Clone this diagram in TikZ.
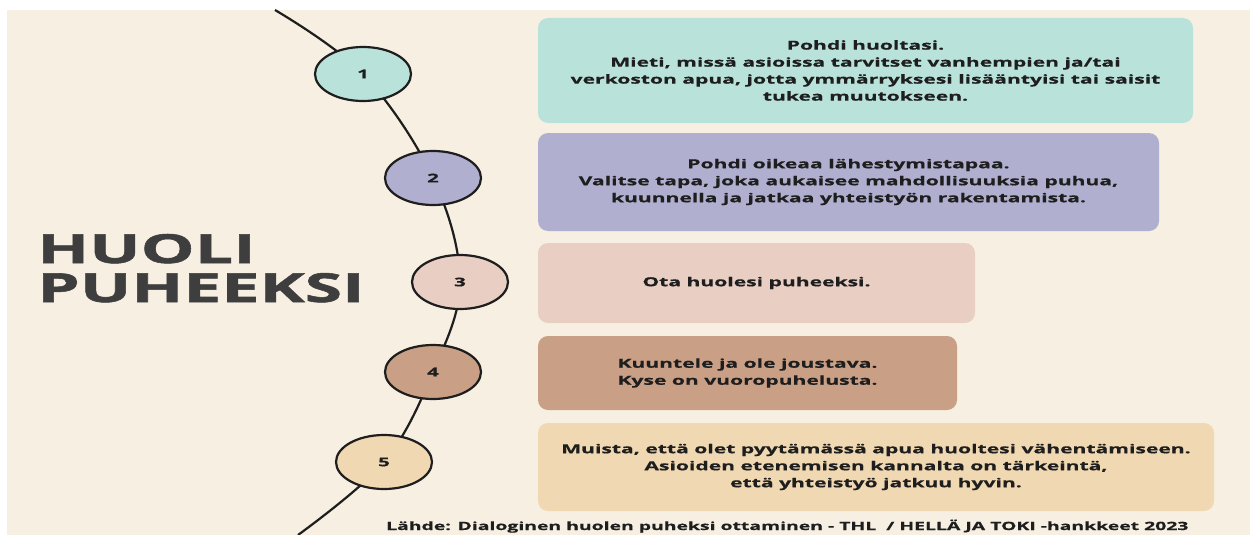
\documentclass[tikz,border=0pt]{standalone}
\usepackage{fontspec}
\setmainfont{Open Sans}[FakeStretch=1.7, FakeBold=0.5]
\newfontfamily\headfont{Open Sans}[FakeStretch=1.7, FakeBold=1.4]
\usetikzlibrary{shapes.geometric,backgrounds}
\definecolor{cream}{HTML}{F6EFE2}
\definecolor{teal1}{HTML}{B9E3DA}
\definecolor{lav}{HTML}{B0AFD0}
\definecolor{rose}{HTML}{E8CEC3}
\definecolor{clay}{HTML}{C99F86}
\definecolor{sand}{HTML}{F0D8B2}
\definecolor{ink}{HTML}{1E1E1E}
\definecolor{slate}{HTML}{3E3E3E}
\begin{document}
\begin{tikzpicture}[x=1pt, y=-1pt,
    box/.style={rounded corners=10pt, inner sep=0pt, align=center, text=ink,
        font=\bfseries\fontsize{12.4}{17}\selectfont},
    num/.style={ellipse, draw=ink, line width=2.2pt, minimum width=96pt, minimum height=54pt,
        inner sep=0pt, text=ink, font=\bfseries\fontsize{12}{14}\selectfont},
    title/.style={anchor=base west, inner sep=0pt, text=slate, font=\headfont\bfseries\fontsize{40}{42}\selectfont}]
    \useasboundingbox (0,0) rectangle (1250,535);

    % steps
    \node[num, fill=teal1] (c1) at (363,74) {1};
    \node[num, fill=lav] (c2) at (433,178) {2};
    \node[num, fill=rose] (c3) at (460,282) {3};
    \node[num, fill=clay] (c4) at (433,372) {4};
    \node[num, fill=sand] (c5) at (384,462) {5};
    \coordinate (top) at (275,10);
    \coordinate (bot) at (298,535);

    % text boxes
    \node[box, fill=teal1, minimum width=655pt, minimum height=105pt] (b1) at (865.5,70.5)
        {Pohdi huoltasi.\\Mieti, missä asioissa tarvitset vanhempien ja/tai\\verkoston apua, jotta ymmärryksesi lisääntyisi tai saisit\\tukea muutokseen.};
    \node[box, fill=lav, minimum width=621pt, minimum height=98pt] (b2) at (848.5,182)
        {Pohdi oikeaa lähestymistapaa.\\Valitse tapa, joka aukaisee mahdollisuuksia puhua,\\kuunnella ja jatkaa yhteistyön rakentamista.};
    \node[box, fill=rose, minimum width=437pt, minimum height=80pt] (b3) at (756.5,283)
        {Ota huolesi puheeksi.};
    \node[box, fill=clay, minimum width=419pt, minimum height=74pt] (b4) at (747.5,373)
        {Kuuntele ja ole joustava.\\Kyse on vuoropuhelusta.};
    \node[box, fill=sand, minimum width=676pt, minimum height=88pt] (b5) at (876,467)
        {Muista, että olet pyytämässä apua huoltesi vähentämiseen.\\Asioiden etenemisen kannalta on tärkeintä,\\että yhteistyö jatkuu hyvin.};

    \node[title] (t1) at (37,263) {HUOLI};
    \node[title] (t2) at (37,302) {PUHEEKSI};
    \node[anchor=base west, inner sep=0pt, text=ink, font=\bfseries\fontsize{11.4}{13}\selectfont] (src) at (386,530)
        {Lähde: Dialoginen huolen puheksi ottaminen - THL~ / HELLÄ JA TOKI -hankkeet 2023};

    \begin{scope}[on background layer]
        \fill[white] (0,0) rectangle (1250,535);
        \fill[cream] (7,10) rectangle (1250,535);
        \draw[ink, line width=2.2pt] plot[smooth, tension=0.6] coordinates
            {(top) (c1.center) (c2.center) (c3.center) (c4.center) (c5.center) (bot)};
    \end{scope}
\end{tikzpicture}
\end{document}
